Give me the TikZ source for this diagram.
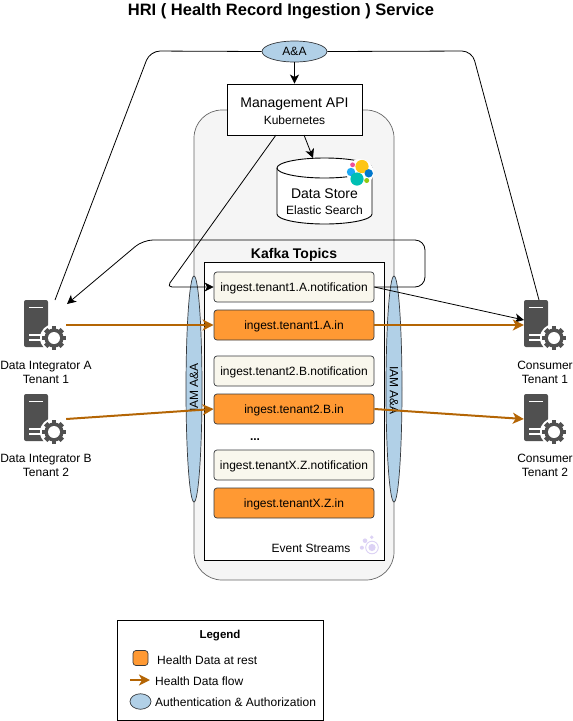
\documentclass[tikz,border=0pt]{standalone}
\usepackage{fontspec}
\setmainfont{Liberation Sans}
\usetikzlibrary{arrows.meta,shapes.geometric,calc}
\definecolor{flowc}{HTML}{B46504}
\definecolor{restc}{HTML}{FF9933}
\definecolor{authc}{HTML}{B1D0E7}
\definecolor{notec}{HTML}{F9F7ED}
\definecolor{edgec}{HTML}{36393D}
\definecolor{greyc}{HTML}{F5F5F5}
\definecolor{srvc}{HTML}{505050}
\definecolor{purc}{HTML}{DCD2F5}
\definecolor{elyel}{HTML}{FEC514}
\definecolor{elpnk}{HTML}{F04E98}
\definecolor{ellbl}{HTML}{1BA9F5}
\definecolor{eltea}{HTML}{00BFB3}
\definecolor{eldbl}{HTML}{0077CC}
\definecolor{elgrn}{HTML}{93C90E}
\tikzset{
  txt/.style={font=\fontsize{12}{14}\selectfont,align=center,inner sep=0pt,yshift=-1.3pt},
  rottxt/.style={font=\fontsize{12}{14}\selectfont,inner sep=0pt},
  topicbase/.style={rounded corners=3pt,draw=edgec,line width=.7pt,minimum width=160pt,minimum height=30pt,inner sep=0pt,font=\fontsize{12}{14}\selectfont},
  notebox/.style={topicbase,fill=notec,text height=12pt,text depth=2.6pt},
  restbox/.style={topicbase,fill=restc,text height=12pt,text depth=2.6pt},
  authell/.style={ellipse,draw=edgec,line width=.7pt,fill=authc,inner sep=0pt},
  sidell/.style={authell,minimum width=16pt,minimum height=226pt},
  blk/.style={draw=black,line width=.8pt,-{Stealth[length=9pt,width=9pt,inset=2.5pt]}},
  flow/.style={draw=flowc,line width=2pt,-{Stealth[length=11pt,width=11pt,inset=3pt]}},
  srvnode/.style={minimum width=42pt,minimum height=50pt,inner sep=0pt},
  blob/.style={fill=#1,draw=none},
  pics/servericon/.style={code={
    \fill[srvc,rounded corners=2pt] (0,0) rectangle (24,47);
    \draw[white,line width=1.2pt] (5,7.5) -- (19,7.5) (5,35) -- (22,35) (5,40) -- (22,40);
    \fill[white] (30,38) circle (14);
    \foreach \a in {0,45,...,315}{
      \fill[srvc,rotate around={\a:(30,38)}] (27.6,26.2) rectangle (32.4,31);
    }
    \fill[srvc] (30,38) circle (9.6);
    \fill[white] (30,38) circle (6);
  }}
}
\begin{document}
\begin{tikzpicture}[x=1pt,y=-1pt]
\useasboundingbox (0,0) rectangle (573,721);
\node[font=\bfseries\fontsize{16.5}{18}\selectfont,inner sep=0pt] (title) at (281,11) {HRI ( Health Record Ingestion ) Service};

% containers
\node[draw=black!60,line width=.7pt,fill=greyc,rounded corners=28pt,minimum width=200pt,minimum height=470pt,inner sep=0pt] (platform) at (294,345) {};
\node[draw=black,line width=.9pt,fill=white,minimum width=180pt,minimum height=298pt,inner sep=0pt] (kafka) at (294.5,411.5) {};
\node[txt,font=\bfseries\fontsize{14}{16}\selectfont] (kafkat) at (294,254) {Kafka Topics};

% top
\node[authell,minimum width=65pt,minimum height=21pt,font=\fontsize{12}{14}\selectfont,text height=10pt,text depth=2.6pt] (aa) at (294.5,51.5) {A\&A};
\node[draw=black,line width=.9pt,fill=white,minimum width=135pt,minimum height=51pt,inner sep=0pt] (mgmt) at (294.5,109.5) {};
\node[txt,font=\fontsize{14}{16}\selectfont] (mgmtt) at (294.5,103) {Management API};
\node[txt] (mgmts) at (294.5,119) {Kubernetes};

% data store
\node[inner sep=0pt,minimum width=95pt,minimum height=66pt] (store) at (324.5,191) {};
\draw[black,line width=.9pt,fill=white] (277,168) arc[start angle=180,end angle=0,x radius=47.5pt,y radius=10pt] -- (372,214) arc[start angle=0,end angle=-180,x radius=47.5pt,y radius=10pt] -- cycle;
\draw[black,line width=.9pt] (277,168) arc[start angle=180,end angle=360,x radius=47.5pt,y radius=10pt];
\node[txt,font=\fontsize{14}{16}\selectfont] (storet) at (324.5,192) {Data Store};
\node[txt] (stores) at (324.5,209) {Elastic Search};
\fill[white] (360,172.5) circle (13.5);
\fill[blob=elyel] (362,166.5) circle (6.6);
\fill[blob=elpnk] (352.6,164.8) circle (2.4);
\fill[blob=ellbl] (351,172) circle (4.2);
\fill[blob=eltea] (357,179) circle (6.6);
\fill[blob=eldbl] (368.7,173.3) circle (4.2);
\fill[blob=elgrn] (366.7,180.5) circle (2.5);

% topics
\node[notebox] (n1) at (294,287) {ingest.tenant1.A.notification};
\node[restbox] (i1) at (294,325) {ingest.tenant1.A.in};
\node[notebox] (n2) at (294,371) {ingest.tenant2.B.notification};
\node[restbox] (i2) at (294,409) {ingest.tenant2.B.in};
\node[txt,font=\bfseries\fontsize{12}{14}\selectfont] (dots) at (255,438) {...};
\node[notebox] (n3) at (294,465) {ingest.tenantX.Z.notification};
\node[restbox] (i3) at (294,503) {ingest.tenantX.Z.in};

\node[txt,anchor=east] (es) at (350.5,547) {Event Streams};
\draw[purc,line width=.9pt] (372,547.5) circle (6.3);
\fill[purc] (372,547.5) circle (3.6);
\fill[purc] (371.7,537.2) circle (1.9);
\fill[purc] (365,540.7) circle (2.3);
\fill[purc] (361.9,547.7) circle (2);

% side ellipses
\node[sidell] (iaml) at (194,389) {};
\node[sidell] (iamr) at (394,389) {};
\node[rottxt,rotate=90] (iamlt) at (194,387.5) {IAM A\&A};
\node[rottxt,rotate=-90] (iamrt) at (394,390.5) {IAM A\&A};

% servers
\node[srvnode] (srvA) at (45,325) {};
\node[srvnode] (srvB) at (45,419) {};
\node[srvnode] (srvC) at (545,325) {};
\node[srvnode] (srvD) at (545,419) {};
\pic at (24,300) {servericon};
\pic at (24,394) {servericon};
\pic at (524,300) {servericon};
\pic at (524,394) {servericon};
\node[txt] (srvAt) at (46,371) {Data Integrator A\\Tenant 1};
\node[txt] (srvBt) at (46,464.5) {Data Integrator B\\Tenant 2};
\node[txt] (srvCt) at (545,371) {Consumer\\Tenant 1};
\node[txt] (srvDt) at (545,464.5) {Consumer\\Tenant 2};

% connectors
\coordinate (aaL) at (150,51);
\coordinate (aaR) at (472,51);
\coordinate (inA) at (55,300);
\coordinate (inC) at (539,300);
\coordinate (arrA) at (67,304);
\coordinate (arrC) at (524,320);
\coordinate (mgmtOut) at (276,135);
\coordinate (mgmtStore) at (304,135);
\coordinate (storeTop) at (313,158);
\coordinate (mgmtCorner) at (167,287);
\coordinate (loopA) at (425,287);
\coordinate (loopB) at (425,240);
\coordinate (loopC) at (143,240);
\draw[line width=.8pt,rounded corners=10pt] (inA) -- (aaL) -- (aa.west);
\draw[line width=.8pt,rounded corners=10pt] (aa.east) -- (aaR) -- (inC);
\draw[blk] (aa.south) -- (mgmt.north);
\draw[blk] (mgmtStore) -- (storeTop);
\draw[blk,rounded corners=5pt] (mgmtOut) -- (mgmtCorner) -- (n1.west);
\draw[blk,rounded corners=10pt] (n1.east) -- (loopA) -- (loopB) -- (loopC) -- (arrA);
\draw[blk] (n1.east) -- (arrC);
\draw[flow] (srvA.east) -- (i1.west);
\draw[flow] (srvB.east) -- (i2.west);
\draw[flow] (i1.east) -- (srvC.west);
\draw[flow] (i2.east) -- (srvD.west);

% legend
\node[draw=black,line width=.9pt,fill=white,minimum width=206pt,minimum height=100pt,inner sep=0pt] (legend) at (220,670) {};
\node[txt,font=\bfseries\fontsize{11.5}{13}\selectfont] (legt) at (220,634) {Legend};
\node[topicbase,fill=restc,minimum width=15pt,minimum height=15pt] (leg1) at (140.5,658) {};
\node[txt,anchor=west] (leg1t) at (157,658.5) {Health Data at rest};
\coordinate (leg2a) at (130,680);
\coordinate (leg2b) at (150,680);
\draw[flow] (leg2a) -- (leg2b);
\node[txt,anchor=west] (leg2t) at (155,680) {Health Data flow};
\node[authell,minimum width=21pt,minimum height=15.5pt] (leg3) at (140.5,701.5) {};
\node[txt,anchor=west] (leg3t) at (155,701) {Authentication \& Authorization};
\end{tikzpicture}
\end{document}
